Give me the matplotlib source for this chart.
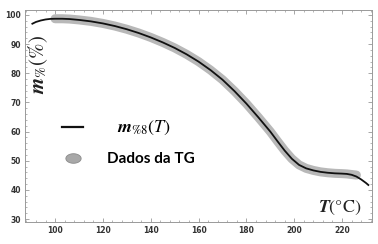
import numpy as np
import matplotlib
matplotlib.use("Agg")
import matplotlib.pyplot as plt
from matplotlib.lines import Line2D
from matplotlib.ticker import MultipleLocator

plt.rcParams['mathtext.fontset'] = 'stix'

# model curve m%8(T)
T_model = [90.5, 92, 94, 96, 98, 100, 103, 106, 110, 115, 120, 125, 130, 135,
           140, 145, 150, 155, 160, 165, 170, 175, 180, 185, 190, 193, 196, 199,
           202, 205, 208, 211, 214, 217, 220, 222, 224, 226, 228, 230, 231]
m_model = [97.0, 97.6, 98.1, 98.45, 98.65, 98.7, 98.7, 98.6, 98.3, 97.8, 97.1,
           96.2, 95.1, 93.8, 92.3, 90.6, 88.7, 86.5, 84.0, 81.1, 77.8, 73.9, 69.6,
           64.9, 60.0, 56.7, 53.5, 50.7, 48.6, 47.4, 46.7, 46.2, 45.9, 45.7, 45.6,
           45.5, 45.2, 44.6, 43.6, 42.4, 41.7]
# TG data (gray band)
T_data = [100, 103, 106, 110, 115, 120, 125, 130, 135, 140, 145, 150, 155, 160,
          165, 170, 175, 180, 185, 190, 193, 196, 199, 202, 205, 208, 211, 214,
          217, 220, 222, 224, 226]
m_data = [98.7, 98.7, 98.6, 98.3, 97.8, 97.1, 96.2, 95.1, 93.8, 92.3, 90.6, 88.7,
          86.5, 84.0, 81.1, 77.8, 73.9, 69.6, 64.9, 60.0, 56.7, 53.5, 50.7, 48.6,
          47.4, 46.7, 46.2, 45.9, 45.7, 45.6, 45.5, 45.3, 45.1]

xticks = [100, 120, 140, 160, 180, 200, 220]
yticks = [30, 40, 50, 60, 70, 80, 90, 100]

fig = plt.figure(figsize=(3.78, 2.44), dpi=100)
ax = fig.add_axes([0.066, 0.09, 0.918, 0.869])

ax.plot(T_data, m_data, color='#b8b8b8', lw=6.5, solid_capstyle='round',
        solid_joinstyle='round', zorder=2)
ax.plot(T_model, m_model, color='#111111', lw=1.3, solid_joinstyle='round', zorder=3)

ax.set_xlim(87.4, 232.5)
ax.set_ylim(29.0, 101.7)
ax.set_xticks(xticks)
ax.set_yticks(yticks)
ax.xaxis.set_minor_locator(MultipleLocator(4))
ax.yaxis.set_minor_locator(MultipleLocator(2))
ax.tick_params(which='both', direction='in', top=True, right=True, color='#999999')
ax.tick_params(which='major', length=3, width=0.6, labelsize=5.5, pad=3)
ax.tick_params(which='minor', length=1.5, width=0.5)
for lab in ax.get_xticklabels() + ax.get_yticklabels():
    lab.set_fontweight('bold')
    lab.set_color('#333333')
for s in ax.spines.values():
    s.set_color('#999999')
    s.set_linewidth(0.7)

ax.text(0.037, 0.745, r'$\boldsymbol{m}_{\%}(\%)$', transform=ax.transAxes,
        rotation=90, fontsize=15, ha='center', va='center', color='#222222')
ax.text(0.971, 0.066, r'$\boldsymbol{T}(\degree\mathrm{C})$', transform=ax.transAxes,
        fontsize=13, ha='right', va='center', color='#222222')

theta = np.linspace(0, 2*np.pi, 60)
ell = np.column_stack([1.6*np.cos(theta), np.sin(theta)])
h1 = Line2D([], [], color='#111111', lw=1.6)
h2 = Line2D([], [], ls='none', marker=ell, markersize=11, markerfacecolor='#a8a8a8',
            markeredgecolor='#8a8a8a', markeredgewidth=0.6)
leg = ax.legend([h1, h2], [r'$\enspace\;\boldsymbol{m}_{\%8}(T)$', 'Dados da TG'],
                loc='center left', bbox_to_anchor=(0.107, 0.377), frameon=False,
                borderpad=0, borderaxespad=0,
                handlelength=1.37, handletextpad=1.57, labelspacing=0.95,
                prop={'family': 'Lato', 'weight': 'bold', 'size': 11})
leg.get_texts()[0].set_fontsize(13)

fig.savefig('out.png', dpi=100)
